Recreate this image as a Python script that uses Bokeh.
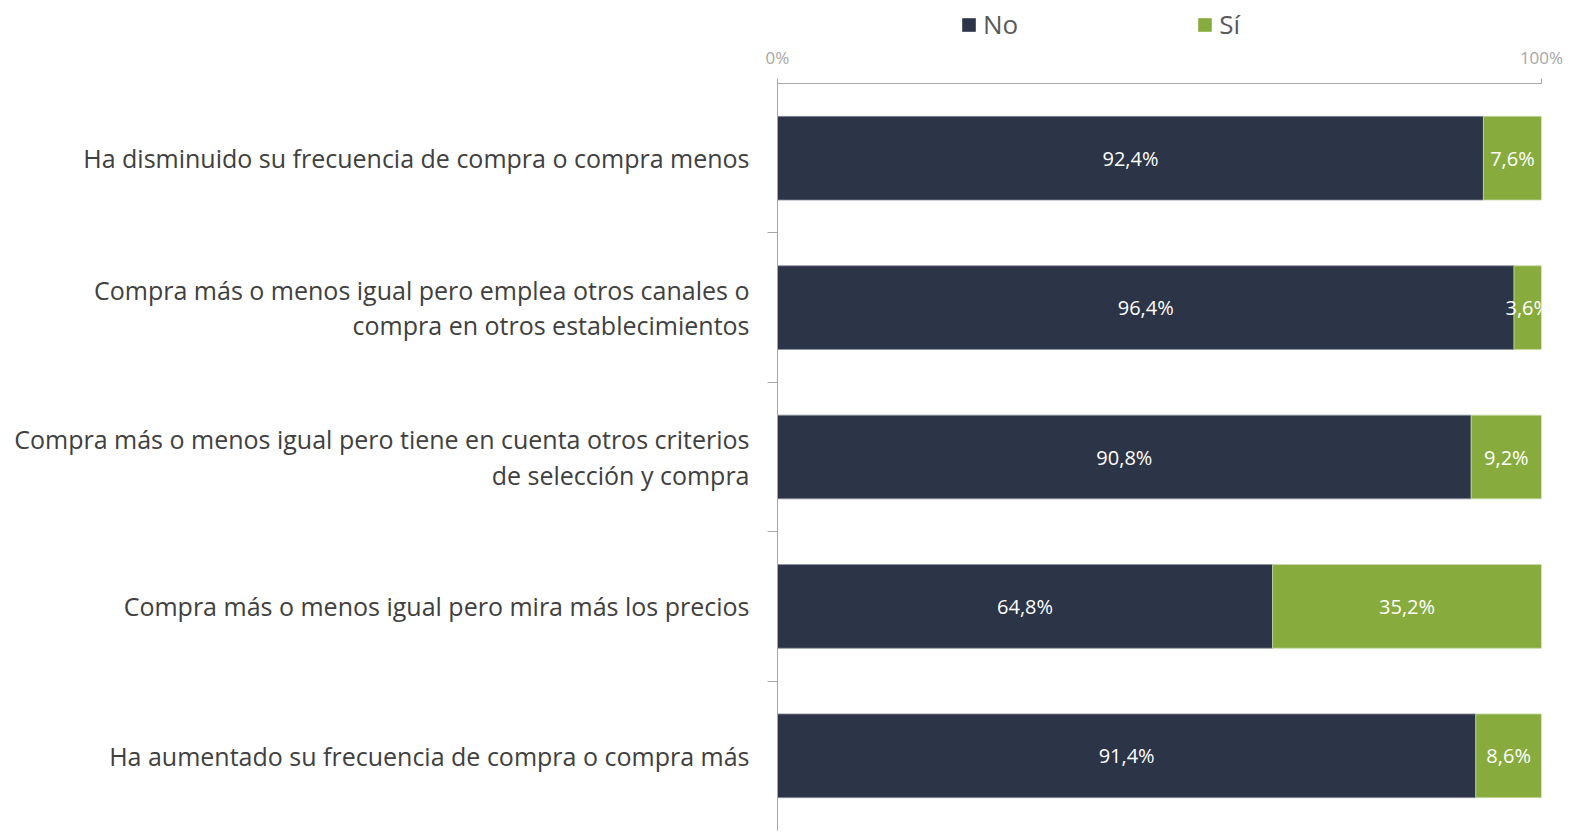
from bokeh.plotting import figure
from bokeh.layouts import column
from bokeh.models import Range1d, FixedTicker, Legend, LegendItem, ColumnDataSource
from bokeh.embed import file_html
from bokeh.resources import INLINE
from bokeh.core.properties import value

categories = [
    "Ha disminuido su frecuencia de compra o compra menos",
    "Compra más o menos igual pero emplea otros canales o\ncompra en otros establecimientos",
    "Compra más o menos igual pero tiene en cuenta otros criterios\nde selección y compra",
    "Compra más o menos igual pero mira más los precios",
    "Ha aumentado su frecuencia de compra o compra más",
]
no_vals = [92.4, 96.4, 90.8, 64.8, 91.4]
si_vals = [7.6, 3.6, 9.2, 35.2, 8.6]
series = ["No", "Sí"]
x_ticks = [0, 100]
x_tick_labels = ["0%", "100%"]

NAVY = "#2C3447"
GREEN = "#87AC3D"
FONT = "Open Sans"

n = len(categories)
ypos = [n - i - 0.5 for i in range(n)]

def fmt(v):
    return f"{v:.1f}%".replace(".", ",")

src = ColumnDataSource(dict(
    y=ypos,
    no=no_vals,
    si=si_vals,
    si_right=[a + b for a, b in zip(no_vals, si_vals)],
    no_mid=[a / 2 for a in no_vals],
    si_mid=[a + b / 2 for a, b in zip(no_vals, si_vals)],
    no_lab=[fmt(v) for v in no_vals],
    si_lab=[fmt(v) for v in si_vals],
))

# ---- legend strip (aligned with the chart below) ----
# its y range lies outside the data, so the bars only serve as legend swatches
lg = figure(width=1577, height=42, output_backend="svg", toolbar_location=None,
            x_range=Range1d(0, 100), y_range=Range1d(n + 5, n + 6),
            x_axis_location=None, y_axis_location=None,
            min_border_left=777, min_border_right=36, min_border_top=0, min_border_bottom=0)
lg.outline_line_color = None
lg.grid.grid_line_color = None
g_no = lg.hbar(y="y", left=0, right="no", height=0.56, source=src,
               fill_color=NAVY, line_color=None)
g_si = lg.hbar(y="y", left="no", right="si_right", height=0.56, source=src,
               fill_color=GREEN, line_color=None)
legend = Legend(items=[LegendItem(label=series[0], renderers=[g_no]),
                       LegendItem(label=series[1], renderers=[g_si])],
                orientation="horizontal", location=(183, 0),
                label_text_font=FONT, label_text_font_size="26px",
                label_text_color="#595959", glyph_width=17, glyph_height=17,
                label_standoff=6, spacing=178, border_line_color=None,
                background_fill_alpha=0, padding=0, margin=0)
lg.add_layout(legend)

# ---- main chart ----
p = figure(width=1577, height=791, output_backend="svg", toolbar_location=None,
           x_range=Range1d(0, 100), y_range=Range1d(0, n),
           x_axis_location="above",
           min_border_left=777, min_border_right=36, min_border_top=38, min_border_bottom=3)
p.outline_line_color = None
p.grid.grid_line_color = None

p.hbar(y="y", left=0, right="no", height=0.56, source=src,
       fill_color=NAVY, line_color="#8A8F9C", line_width=0.8)
p.hbar(y="y", left="no", right="si_right", height=0.56, source=src,
       fill_color=GREEN, line_color="#C8D8A8", line_width=0.8)

p.text(x="no_mid", y="y", text="no_lab", source=src, text_color="white",
       text_font=value(FONT), text_font_size="20px", text_align="center", text_baseline="middle")
p.text(x="si_mid", y="y", text="si_lab", source=src, text_color="white",
       text_font=value(FONT), text_font_size="20px", text_align="center", text_baseline="middle")

xa = p.xaxis[0]
xa.ticker = FixedTicker(ticks=x_ticks, minor_ticks=[])
xa.major_label_overrides = {t: l for t, l in zip(x_ticks, x_tick_labels)}
xa.axis_line_color = "#A6A6A6"
xa.major_tick_line_color = "#A6A6A6"
xa.major_tick_out = 5
xa.major_tick_in = 0
xa.major_label_text_color = "#A6A6A6"
xa.major_label_text_font = FONT
xa.major_label_text_font_size = "17px"
xa.major_label_standoff = 10

ya = p.yaxis[0]
ya.ticker = FixedTicker(ticks=ypos, minor_ticks=[1, 2, 3, 4])
ya.major_label_overrides = {y: c for y, c in zip(ypos, categories)}
ya.axis_line_color = "#A6A6A6"
ya.major_tick_line_color = None
ya.minor_tick_line_color = "#A6A6A6"
ya.minor_tick_out = 10
ya.minor_tick_in = 0
ya.major_label_text_color = "#404040"
ya.major_label_text_font = FONT
ya.major_label_text_font_size = "25px"
ya.major_label_text_line_height = 1.03
ya.major_label_standoff = 18

layout = column(lg, p, spacing=0)
open("out.html", "w").write(file_html(layout, INLINE))
